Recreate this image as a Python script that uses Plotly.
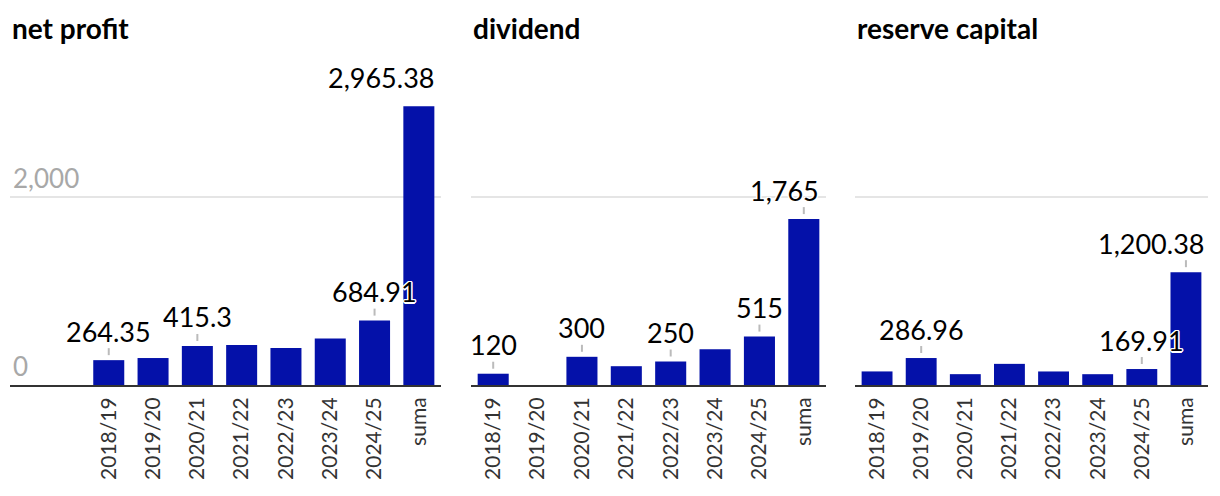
import plotly.graph_objects as go

W, H = 1220, 496

categories = ["2018/19", "2019/20", "2020/21", "2021/22", "2022/23", "2023/24", "2024/25", "suma"]
titles = ["net profit", "dividend", "reserve capital"]

net_profit = [264.35, 286.96, 415.3, 424.86, 394, 495, 684.91, 2965.38]
dividend = [120, 0, 300, 200, 250, 380, 515, 1765]
reserve_capital = [144.35, 286.96, 115.3, 224.86, 144, 115, 169.91, 1200.38]

label_text_net = ["264.35", None, "415.3", None, None, None, "684.91", "2,965.38"]
label_text_div = ["120", None, "300", None, "250", None, "515", "1,765"]
label_text_res = [None, "286.96", None, None, None, None, "169.91", "1,200.38"]

y_ticks = [0, 2000]
y_tick_labels = ["0", "2,000"]

series = [net_profit, dividend, reserve_capital]
labels = [label_text_net, label_text_div, label_text_res]

BAR = "#0411a9"
FONT = "Lato"

# pixel domains of the three panels
x_px = [(10, 441), (471, 826), (855, 1208)]
y_px = (103, 385)  # top, bottom (value 0)
# horizontal shift of the last (right-edge) label so it stays inside the panel
edge_shift = [17, 17, 20]

fig = go.Figure()
annotations = []
shapes = []
halo = ("white 1px 1px 0px, white -1px -1px 0px, white 1px -1px 0px, white -1px 1px 0px, "
        "white 0px 1.5px 0px, white 0px -1.5px 0px, white 1.5px 0px 0px, white -1.5px 0px 0px")

for i, (vals, labs, title) in enumerate(zip(series, labels, titles)):
    n = i + 1
    xa = "x" if n == 1 else f"x{n}"
    ya = "y" if n == 1 else f"y{n}"
    fig.add_trace(go.Bar(x=categories, y=vals, marker=dict(color=BAR, line=dict(width=0)),
                         xaxis=xa, yaxis=ya, hoverinfo="x+y", showlegend=False))
    x0, x1 = x_px[i]
    width_px = x1 - x0
    if i == 0:
        step = 44.3
        extra = (width_px - 8 * step) / step
        xrange = [-0.5 - extra, 7.5]
    else:
        xrange = [-0.5, 7.5]
    xkey = "xaxis" if n == 1 else f"xaxis{n}"
    ykey = "yaxis" if n == 1 else f"yaxis{n}"
    fig.layout[xkey] = dict(
        domain=[x0 / W, x1 / W], range=xrange, type="category", anchor=ya,
        showline=True, linecolor="#333333", linewidth=2, showgrid=False,
        ticks="", tickangle=-90, ticklabelstandoff=2,
        tickfont=dict(family=FONT, size=21, color="#333333"), fixedrange=True,
    )
    fig.layout[ykey] = dict(
        domain=[(H - y_px[1]) / H, (H - y_px[0]) / H], range=[0, 3000], anchor=xa,
        tickmode="array", tickvals=y_ticks, ticktext=y_tick_labels if i == 0 else ["", ""],
        showticklabels=(i == 0), ticklabelposition="inside top", ticks="",
        ticklabelstandoff=0,
        tickfont=dict(family=FONT, size=26, color="#a8a8a8"),
        showgrid=True, gridcolor="#e5e5e5", gridwidth=2, zeroline=False, showline=False,
        fixedrange=True,
    )
    annotations.append(dict(
        text=f"<b>{title}</b>", xref="paper", yref="paper", x=x0 / W,
        y=(H - 28) / H, xanchor="left", yanchor="middle", showarrow=False,
        font=dict(family=FONT, size=28, color="#000000"),
    ))
    last = len(categories) - 1
    for k, (c, v, t) in enumerate(zip(categories, vals, labs)):
        if t is None:
            continue
        is_edge = (k == last)
        annotations.append(dict(
            text=t, x=c, y=v, xref=xa, yref=ya, showarrow=False,
            yshift=29, xshift=edge_shift[i] if is_edge else 0,
            font=dict(family=FONT, size=27, color="#000000", shadow=halo),
            xanchor="right" if is_edge else "center", yanchor="middle",
        ))
        shapes.append(dict(
            type="line", xref=xa, yref=ya, x0=c, x1=c,
            ysizemode="pixel", yanchor=v, y0=5, y1=12,
            line=dict(color="#bbbbbb", width=2),
        ))

fig.update_layout(
    width=W, height=H, margin=dict(l=0, r=0, t=0, b=0),
    paper_bgcolor="white", plot_bgcolor="white", bargap=0.3,
    annotations=annotations, shapes=shapes, font=dict(family=FONT),
)

fig.write_html("out.html", config={"displayModeBar": False},
               post_script="document.body.style.margin='0';document.body.style.overflow='hidden';")
